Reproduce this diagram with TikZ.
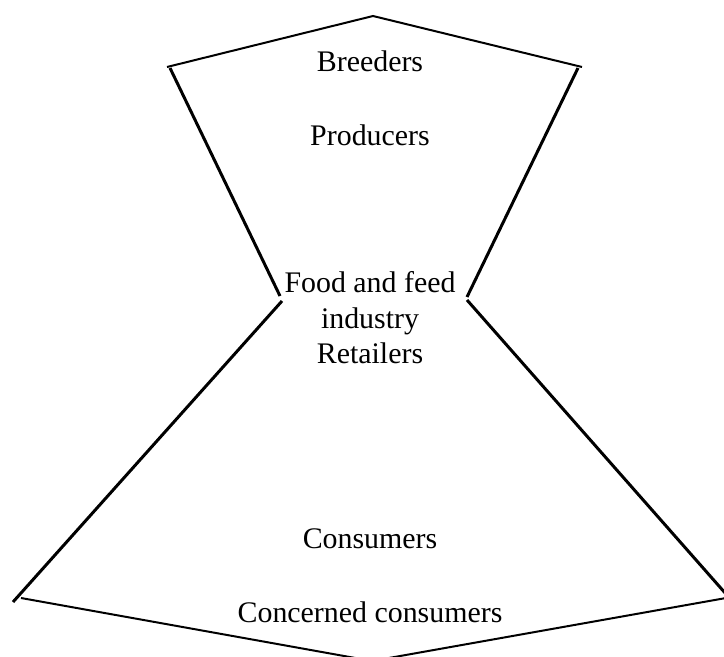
\documentclass[tikz,border=0pt]{standalone}
\usepackage{fontspec}
\setmainfont{Liberation Serif}
\tikzset{
  rim/.style={line width=2pt},
  side/.style={line width=3pt},
  tier/.style={font=\fontsize{30}{36}\selectfont, inner sep=0pt, anchor=base, align=center}
}

\begin{document}
\begin{tikzpicture}[x=1bp,y=-1bp]
            \useasboundingbox (0,0) rectangle (724,657);
            % top rim
            \coordinate (rimTL) at (167,67);
            \coordinate (apexT) at (373,16);
            \coordinate (rimTR) at (582,67);
            \draw[rim] (rimTL) -- (apexT) -- (rimTR);
            % waist
            \coordinate (upL) at (170,68);
            \coordinate (waistL) at (280,296);
            \coordinate (upR) at (578,68);
            \coordinate (waistR) at (467,297);
            \draw[side] (upL) -- (waistL);
            \draw[side] (upR) -- (waistR);
            \coordinate (lowL) at (282,301);
            \coordinate (footL) at (13,602);
            \coordinate (lowR) at (467,300);
            \coordinate (footR) at (726,594);
            \draw[side] (lowL) -- (footL);
            \draw[side] (lowR) -- (footR);
            % bottom rim
            \coordinate (rimBL) at (21,598);
            \coordinate (apexB) at (372,661);
            \coordinate (rimBR) at (726,598);
            \draw[rim] (rimBL) -- (apexB) -- (rimBR);

            \node[tier] (breeders) at (370,72) {Breeders};
            \node[tier] (producers) at (370,145) {Producers};
            \node[tier] (industry) at (370,328) {Food and feed\\industry};
            \node[tier] (retailers) at (370,363) {Retailers};
            \node[tier] (consumers) at (370,548) {Consumers};
            \node[tier] (concerned) at (370,622) {Concerned consumers};
\end{tikzpicture}
\end{document}
